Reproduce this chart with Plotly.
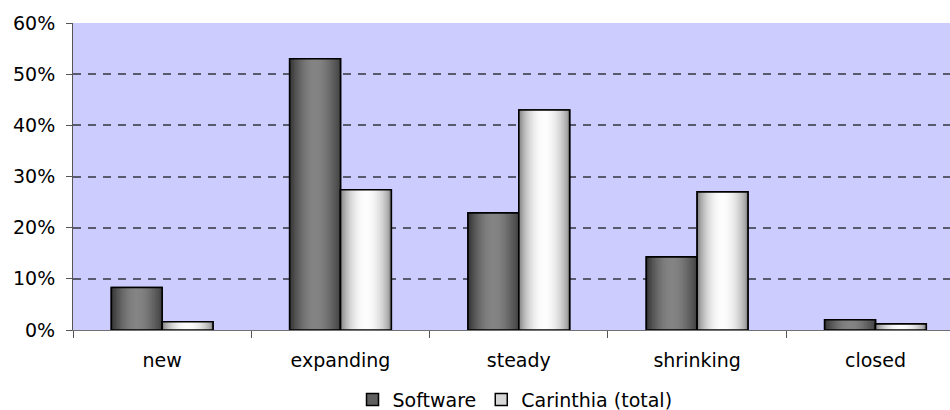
import plotly.graph_objects as go
import math

# Share of companies by development status
categories = ["new", "expanding", "steady", "shrinking", "closed"]
software = [8.3, 53.0, 22.9, 14.3, 2.0]
carinthia = [1.6, 27.4, 43.0, 27.0, 1.2]
series_names = ["Software", "Carinthia (total)"]
y_ticks = [0, 10, 20, 30, 40, 50, 60]
y_tick_labels = ["0%", "10%", "20%", "30%", "40%", "50%", "60%"]

BAR_W = 0.285
N_STRIPS = 36
FONT = "DejaVu Sans"


def shade(t, left, peak, right, power):
    """Grey level across a bar: edge colour at both sides, bright band near centre."""
    edge = left + (right - left) * t
    k = math.sin(math.pi * t) ** power
    g = int(round(edge + (peak - edge) * k))
    return f"rgb({g},{g},{g})"


styles = [
    dict(values=software, offset=-BAR_W, left=52, peak=132, right=66, power=1.0,
         legend_fill="rgb(95,95,95)"),
    dict(values=carinthia, offset=0.0, left=112, peak=253, right=128, power=0.65,
         legend_fill="rgb(215,215,215)"),
]

fig = go.Figure()

for name, st in zip(series_names, styles):
    # base bar carries the legend entry
    fig.add_trace(go.Bar(
        x=categories, y=st["values"], name=name,
        width=BAR_W, offset=st["offset"],
        marker=dict(color=st["legend_fill"], line=dict(color="black", width=1.5)),
        showlegend=True, hoverinfo="skip",
    ))
    # horizontal shading built from overlapping strips, left to right
    sw = BAR_W / N_STRIPS
    for i in range(N_STRIPS):
        t = (i + 0.5) / N_STRIPS
        fig.add_trace(go.Bar(
            x=categories, y=st["values"],
            width=BAR_W - i * sw, offset=st["offset"] + i * sw,
            marker=dict(color=shade(t, st["left"], st["peak"], st["right"], st["power"]),
                        line=dict(width=0)),
            showlegend=False, hoverinfo="skip",
        ))
    # outline on top
    fig.add_trace(go.Bar(
        x=categories, y=st["values"], name=name,
        width=BAR_W, offset=st["offset"],
        marker=dict(color="rgba(0,0,0,0)", line=dict(color="black", width=1.6)),
        showlegend=False, hovertemplate="%{x}: %{y}%<extra>" + name + "</extra>",
    ))

fig.update_layout(
    width=950, height=410,
    margin=dict(l=73, r=0, t=23, b=80, autoexpand=False),
    paper_bgcolor="white",
    plot_bgcolor="#CCCCFF",
    barmode="overlay",
    font=dict(family=FONT, size=19, color="black"),
    showlegend=True,
    legend=dict(
        orientation="h", x=0.504, xanchor="center", y=-0.227, yanchor="middle",
        font=dict(family=FONT, size=19, color="black"),
        bgcolor="rgba(0,0,0,0)", itemclick=False, itemdoubleclick=False,
    ),
)

fig.update_xaxes(
    range=[-0.5, 4.418],
    showgrid=False,
    showline=True, linecolor="#707070", linewidth=1,
    ticks="outside", tickson="boundaries", ticklen=7, tickcolor="#555555",
    ticklabelstandoff=13,
    zeroline=False,
)

fig.update_yaxes(
    range=[0, 60],
    tickvals=y_ticks, ticktext=y_tick_labels,
    showgrid=True, gridcolor="#5a5a6e", gridwidth=1.7, griddash="8px,7px",
    showline=True, linecolor="#555555", linewidth=1,
    ticks="outside", ticklen=6, tickcolor="#555555",
    ticklabelstandoff=7,
    zeroline=False,
)

fig.write_html("out.html")
